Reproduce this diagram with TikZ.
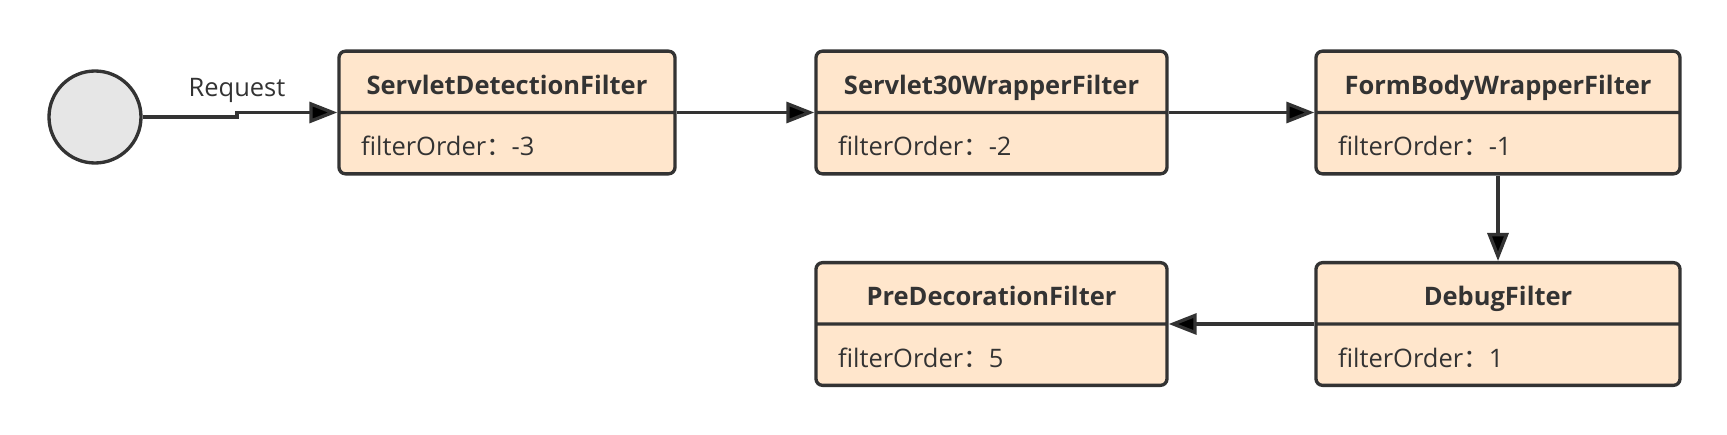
\documentclass[tikz,border=0pt]{standalone}
\usepackage{fontspec}
\setmainfont{Open Sans}
\newfontfamily\cjk{Noto Sans CJK SC}
\usepackage{tikz}
\usetikzlibrary{positioning,arrows.meta,shapes.multipart}
\definecolor{fLine}{HTML}{333333}
\definecolor{fBox}{HTML}{FFE6CC}
\definecolor{fStart}{HTML}{E6E6E6}
\newcommand{\fcolon}{{\cjk ：}}
\newcommand{\fstrut}{\rule[-0.33cm]{0pt}{1.16cm}}

\begin{document}
\begin{tikzpicture}[font=\fontsize{14.5}{17}\selectfont, text=fLine,
  filterbox/.style={rectangle split, rectangle split parts=2, rectangle split part align={center,left}, draw=fLine, line width=1.9pt, fill=fBox, rounded corners=0.13cm, minimum width=#1, inner xsep=0.44cm, inner ysep=0pt},
  flow/.style={-{Triangle[length=0.56cm,width=0.42cm]}, draw=fLine, line width=1.9pt}]
\useasboundingbox (0,0) rectangle (34.54,8.68);
\node[circle, draw=fLine, line width=1.9pt, fill=fStart, minimum size=1.84cm] (start) at (1.9,6.34) {};
\node[anchor=base] (req) at (4.74,6.74) {Request};
\node[filterbox=6.72cm] (detect) at (10.14,6.43) {\fstrut\textbf{ServletDetectionFilter}\nodepart{two}\fstrut filterOrder\fcolon-3};
\node[filterbox=7.02cm] (wrap30) at (19.83,6.43) {\fstrut\textbf{Servlet30WrapperFilter}\nodepart{two}\fstrut filterOrder\fcolon-2};
\node[filterbox=7.28cm] (formbody) at (29.96,6.43) {\fstrut\textbf{FormBodyWrapperFilter}\nodepart{two}\fstrut filterOrder\fcolon-1};
\node[filterbox=7.28cm] (debug) at (29.96,2.2) {\fstrut\textbf{DebugFilter}\nodepart{two}\fstrut filterOrder\fcolon1};
\node[filterbox=7.02cm] (predeco) at (19.83,2.2) {\fstrut\textbf{PreDecorationFilter}\nodepart{two}\fstrut filterOrder\fcolon5};
\draw[flow] (start.east) -- (start.east -| req.south) -- (detect.west -| req.south) -- (detect.west);
\draw[flow] (detect.east) -- (wrap30.west);
\draw[flow] (wrap30.east) -- (formbody.west);
\draw[flow] (formbody.south) -- (debug.north);
\draw[flow] (debug.west) -- (predeco.east);
\end{tikzpicture}
\end{document}
